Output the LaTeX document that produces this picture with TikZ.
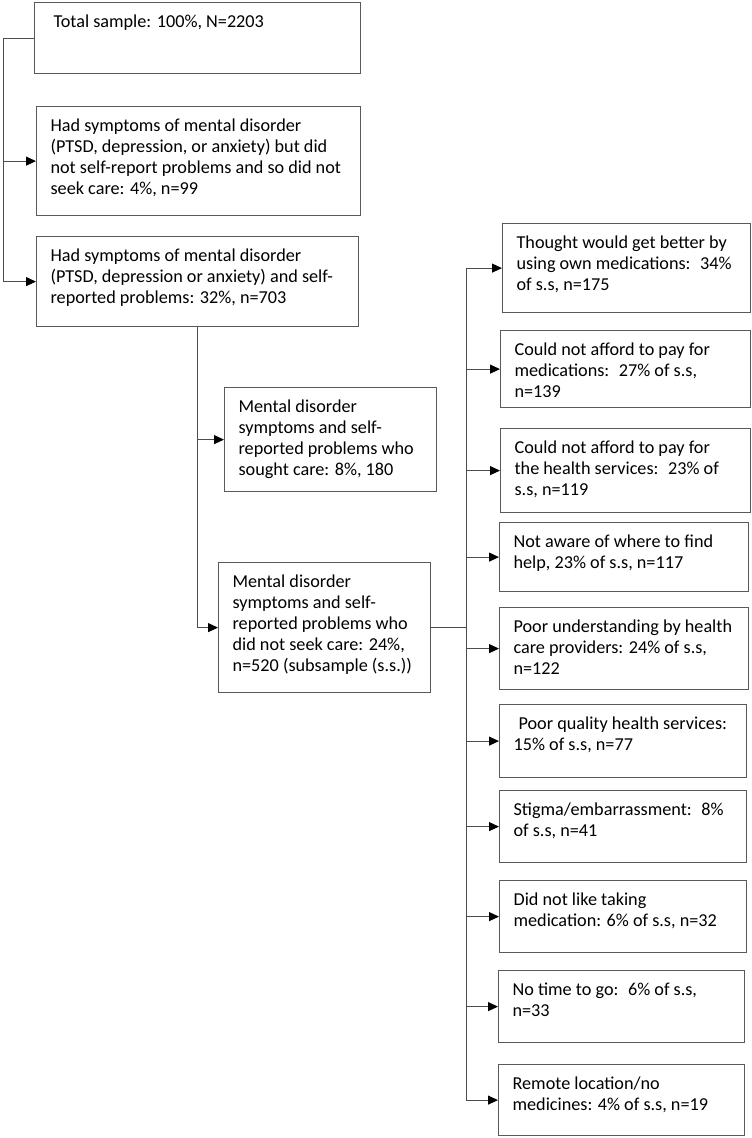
\documentclass[tikz,border=0pt]{standalone}
\usepackage{fontspec}
\setmainfont{Carlito}
\usetikzlibrary{arrows.meta}
\tikzset{box/.style={draw=black!65,line width=1.2pt,anchor=north west,inner xsep=14pt,inner ysep=12pt,font=\fontsize{18.2}{21}\selectfont}}
\tikzset{link/.style={draw=black!70,line width=1pt}}
\tikzset{arr/.style={link,-{Triangle[length=10pt,width=9pt,black]}}}
% text block of a box: width, height (in pt), text
\newcommand{\boxtext}[3]{\parbox[c][\dimexpr#2pt-24pt\relax][t]{\dimexpr#1pt-28pt\relax}{\raggedright #3}}

\begin{document}
\begin{tikzpicture}[x=1pt,y=-1pt]
    \useasboundingbox (0,0) rectangle (752,1138);

    % left column
    \node[box] (n1) at (34,2) {\boxtext{326}{71}{\hspace*{5pt}Total sample: 100\%, N=2203}};
    \node[box] (n2) at (36,106) {\boxtext{324}{109}{Had symptoms of mental disorder\\(PTSD, depression, or anxiety) but did\\not self-report problems and so did not\\seek care: 4\%, n=99}};
    \node[box] (n3) at (36,236) {\boxtext{322}{90}{Had symptoms of mental disorder\\(PTSD, depression or anxiety) and self-\\reported problems: 32\%, n=703}};
    \node[box] (n4) at (224,387) {\boxtext{212}{104}{Mental disorder\\symptoms and self-\\reported problems who\\sought care: 8\%, 180}};
    \node[box] (n5) at (218,562) {\boxtext{212}{130}{Mental disorder\\symptoms and self-\\reported problems who\\did not seek care: 24\%,\\n=520 (subsample (s.s.))}};

    % reasons for not seeking care
    \node[box] (r1) at (502,223) {\boxtext{248}{89}{Thought would get better by\\using own medications:~ 34\%\\of s.s, n=175}};
    \node[box] (r2) at (500,330) {\boxtext{250}{77}{Could not afford to pay for\\medications:~ 27\% of s.s,\\n=139}};
    \node[box] (r3) at (500,428) {\boxtext{250}{84}{Could not afford to pay for\\the health services:~ 23\% of\\s.s, n=119}};
    \node[box] (r4) at (499,522) {\boxtext{249}{69}{Not aware of where to find\\help, 23\% of s.s, n=117}};
    \node[box] (r5) at (499,607) {\boxtext{249}{82}{Poor understanding by health\\care providers: 24\% of s.s,\\n=122}};
    \node[box] (r6) at (499,704) {\boxtext{247}{73}{\hspace*{5pt}Poor quality health services:\\15\% of s.s, n=77}};
    \node[box] (r7) at (499,790) {\boxtext{247}{72}{Stigma/embarrassment:~ 8\%\\of s.s, n=41}};
    \node[box] (r8) at (499,880) {\boxtext{247}{72}{Did not like taking\\medication: 6\% of s.s, n=32}};
    \node[box] (r9) at (498,970) {\boxtext{246}{72}{No time to go:~ 6\% of s.s,\\n=33}};
    \node[box] (r10) at (498,1064) {\boxtext{246}{71}{Remote location/no\\medicines: 4\% of s.s, n=19}};

    \coordinate (la) at (3,0);
    \coordinate (lc) at (466,0);

    \draw[arr] (n1.west) -- (n1.west -| la) |- (n3.west);
    \draw[arr] (n2.west -| la) -- (n2.west);

    \draw[arr] (n3.south) |- (n5.west);
    \draw[arr] (n4.west -| n3.south) -- (n4.west);

    \draw[link] (n5.east) -- (n5.east -| lc);
    \draw[link] (r1.west -| lc) -- (r10.west -| lc);
    \foreach \r in {r1,r2,r3,r4,r5,r6,r7,r8,r9,r10}{
      \draw[arr] (\r.west -| lc) -- (\r.west);
    }
\end{tikzpicture}
\end{document}
